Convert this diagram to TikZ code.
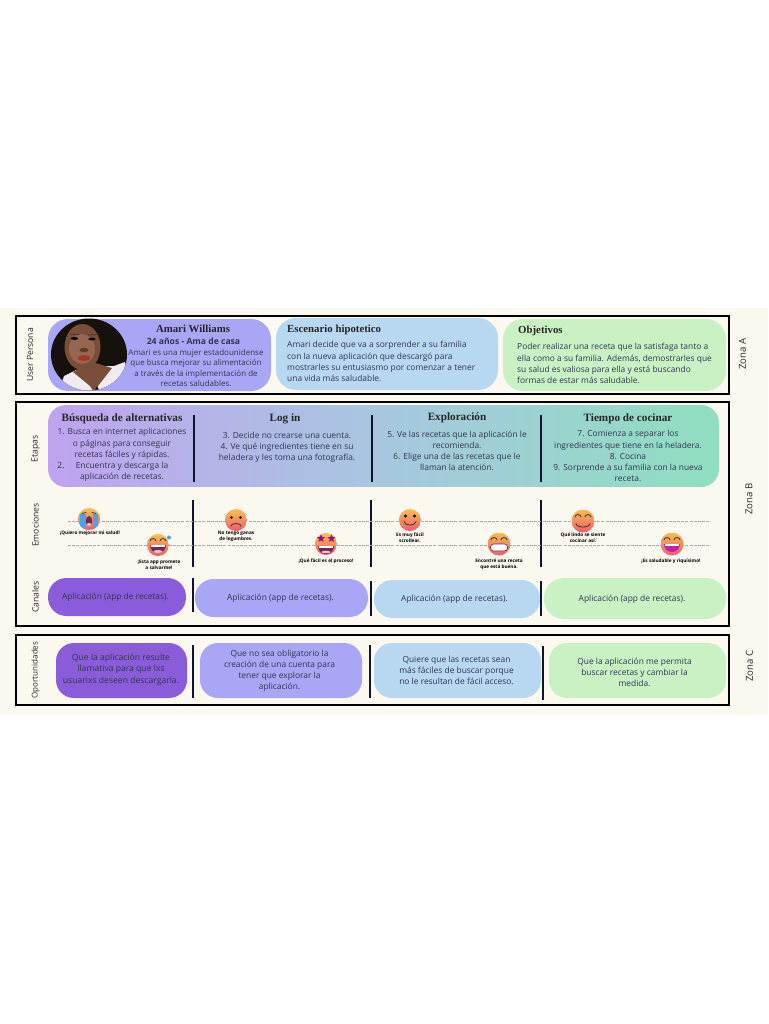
\documentclass[tikz,border=0pt]{standalone}
\usepackage{fontspec}
\setmainfont{Open Sans}
\newfontfamily\titlefont{Liberation Serif}
\usetikzlibrary{shapes.geometric}
\definecolor{cream}{HTML}{FBF8EF}
\definecolor{ink}{HTML}{2F3650}
\definecolor{pviolet}{HTML}{8A5CD9}
\definecolor{plav}{HTML}{AAA6F6}
\definecolor{pblue}{HTML}{B8D7F1}
\definecolor{pgreen}{HTML}{C9F1C4}
\definecolor{ebar}{HTML}{0E1330}
\definecolor{gradA}{HTML}{BFA3EF}
\definecolor{gradB}{HTML}{A8C6E0}
\definecolor{gradC}{HTML}{8EDFBF}
\definecolor{emotop}{HTML}{F8BE50}
\definecolor{emobot}{HTML}{F0606A}
\definecolor{mouthd}{HTML}{6A2A5A}
\definecolor{mouthp}{HTML}{C020B0}
\definecolor{tear}{HTML}{4FA0E8}
\definecolor{skin}{HTML}{7A4E38}
\definecolor{skinl}{HTML}{966650}
\definecolor{hair}{HTML}{17110E}
\definecolor{shirt}{HTML}{F0EBF0}
\tikzset{
  x=1pt,y=-1pt,
  zonebox/.style={draw=black,line width=1.8pt},
  sepline/.style={draw=ebar,line width=1.3pt},
  dashline/.style={draw=gray!65,line width=.7pt,dash pattern=on 3pt off 1.2pt},
  bodytxt/.style={text=ink,align=center,font=\fontsize{8.4}{11.1}\selectfont,inner sep=0pt},
  lefttxt/.style={text=ink,align=left,font=\fontsize{8.4}{11.4}\selectfont,inner sep=0pt,anchor=north west},
  headtxt/.style={text=black!85,font=\titlefont\bfseries\fontsize{10.8}{12}\selectfont,inner sep=0pt},
  bandhead/.style={headtxt,font=\titlefont\bfseries\fontsize{11.2}{12}\selectfont},
  ziptxt/.style={text=black,align=center,font=\fontsize{4.7}{5.8}\selectfont\bfseries,inner sep=0pt},
  sidetxt/.style={text=black!85,rotate=90,font=\fontsize{8.6}{10}\selectfont,inner sep=0pt},
  zonetxt/.style={sidetxt,font=\fontsize{9.6}{11}\selectfont},
  facestroke/.style={draw=black!80,line width=.8pt,line cap=round},
}
\newcommand{\emo}[3]{%
  \begin{scope}
  \clip (#1,#2) circle[radius=#3];
  \foreach \i in {0,...,11}{%
    \pgfmathsetmacro\p{100-\i*100/11}
    \fill[emotop!\p!emobot] (#1-#3,#2-#3+\i*#3/6) rectangle (#1+#3,#2-#3+\i*#3/6+#3/6+0.4);
  }
  \end{scope}}
\newcommand{\happyeyes}[3]{%
  \draw[facestroke] (#1-#3-3,#2) arc[start angle=180,end angle=360,x radius=3,y radius=2.5];
  \draw[facestroke] (#1+#3-3,#2) arc[start angle=180,end angle=360,x radius=3,y radius=2.5];}
\newcommand{\openmouth}[4]{%
  \fill[#4] (#1-#3,#2) arc[start angle=180,end angle=0,radius=#3] -- cycle;
  \fill[white] (#1-#3+.8,#2) rectangle (#1+#3-.8,#2+1.8);}
\begin{document}
\begin{tikzpicture}
\useasboundingbox (0,0) rectangle (768,1024);
\fill[white] (0,0) rectangle (768,1024);
\fill[cream] (0,308) rectangle (768,715);

% zone boxes
\draw[zonebox] (16,316) rectangle (729,394);
\draw[zonebox] (16,402) rectangle (729,626);
\draw[zonebox] (16,635) rectangle (729,705);

% Zone A
\fill[plav,rounded corners=20pt] (48,319) rectangle (271,391);
\fill[pblue,rounded corners=20pt] (276,318) rectangle (498,390);
\fill[pgreen,rounded corners=20pt] (503,319) rectangle (726,391);

% portrait
\begin{scope}
\clip (89,354.5) ellipse [x radius=38,y radius=36];
\fill[hair] (48,315) rectangle (130,395);
\fill[shirt] (58,395) -- (64,376) -- (76,370) -- (100,366) -- (114,366) -- (125,362) -- (130,395) -- cycle;
\fill[skin] (73,372) -- (92,362) -- (112,368) -- (98,386) -- (94,392) -- (90,386) -- cycle;
\fill[hair] (94,392) -- (97,386) -- (100,392) -- cycle;
\fill[skin] (82.5,347) ellipse [x radius=18,y radius=23];
\fill[skinl] (82,349) ellipse [x radius=13,y radius=15];
\fill[black] (74.5,338.5) ellipse [x radius=3.6,y radius=1.5];
\fill[black] (92,339) ellipse [x radius=3.6,y radius=1.5];
\draw[black!80,line width=.6pt] (70,334) -- (79,334.5);
\draw[black!80,line width=.6pt] (88,335) -- (97,334.5);
\fill[skin!75!black] (84,350) ellipse [x radius=4.5,y radius=2.2];
\fill[red!30!skin] (84,358) ellipse [x radius=6.5,y radius=2.8];
\end{scope}

\node[headtxt] (pname) at (193,329) {Amari Williams};
\node[text=ink,font=\fontsize{8.6}{11}\selectfont\bfseries,inner sep=0pt] (page) at (193.5,341) {24 años - Ama de casa};
\node[bodytxt,font=\fontsize{8}{10.2}\selectfont] (pdesc) at (196,368) {Amari es una mujer estadounidense\\que busca mejorar su alimentación\\a través de la implementación de\\recetas saludables.};

\node[headtxt,anchor=west] (sname) at (287,330) {Escenario hipotetico};
\node[lefttxt] (sdesc) at (287,341) {Amari decide que va a sorprender a su familia\\con la nueva aplicación que descargó para\\mostrarles su entusiasmo por comenzar a tener\\una vida más saludable.};

\node[headtxt,anchor=west] (oname) at (518,331) {Objetivos};
\node[lefttxt] (odesc) at (517,343) {Poder realizar una receta que la satisfaga tanto a\\ella como a su familia. Además, demostrarles que\\su salud es valiosa para ella y está buscando\\formas de estar más saludable.};

% Etapas gradient band
\begin{scope}
\clip[rounded corners=18pt] (300,405) -- (719,405) -- (719,487) -- (48,487) -- (48,405) -- cycle;
\foreach \i in {0,...,80}{%
  \pgfmathsetmacro\p{100-\i*100/80}
  \fill[gradA!\p!gradB] (48+\i*4,405) rectangle (48+\i*4+5,487);
}
\foreach \i in {0,...,88}{%
  \pgfmathsetmacro\p{100-\i*100/88}
  \fill[gradB!\p!gradC] (368+\i*4,405) rectangle (368+\i*4+5,487);
}
\end{scope}
\node[bandhead] (e1h) at (122,418.5) {Búsqueda de alternativas};
\node[bandhead] (e2h) at (285,418.5) {Log in};
\node[bandhead] (e3h) at (457,418) {Exploración};
\node[bandhead] (e4h) at (628,418.5) {Tiempo de cocinar};
\node[bodytxt] (e1) at (122,455) {1. Busca en internet aplicaciones\\o páginas para conseguir\\recetas fáciles y rápidas.\\Encuentra y descarga la\\aplicación de recetas.};
\node[text=ink,font=\fontsize{8.4}{10}\selectfont,inner sep=0pt] (e1n) at (61,465.5) {2.};
\node[bodytxt] (e2) at (287,447) {3. Decide no crearse una cuenta.\\4. Ve qué ingredientes tiene en su\\heladera y les toma una fotografía.};
\node[bodytxt] (e3) at (457,451) {5. Ve las recetas que la aplicación le\\recomienda.\\6. Elige una de las recetas que le\\llaman la atención.};
\node[bodytxt] (e4) at (628,456) {7. Comienza a separar los\\ingredientes que tiene en la heladera.\\8. Cocina\\9. Sorprende a su familia con la nueva\\receta.};

% separators
\draw[sepline] (194,415) -- (194,482);
\draw[sepline] (372,415) -- (372,482);
\draw[sepline] (541,415) -- (541,482);
\draw[sepline] (193,500) -- (193,567);
\draw[sepline] (371,500) -- (371,567);
\draw[sepline] (541,500) -- (541,567);
\draw[sepline] (193,578) -- (193,612);
\draw[sepline] (371,581) -- (371,616);
\draw[sepline] (541,581) -- (541,616);
\draw[sepline] (193,645) -- (193,698);
\draw[sepline] (370,645) -- (370,698);
\draw[sepline] (543,646) -- (543,700);

% dashed levels
\draw[dashline] (68,521) -- (710,521);
\draw[dashline] (68,545) -- (710,545);

% 1 crying
\emo{89}{519}{11}
\begin{scope}
\clip (89,519) circle[radius=11];
\fill[tear] (80,514) rectangle (85.5,531);
\fill[tear] (92.5,514) rectangle (98,531);
\end{scope}
\fill[mouthd] (89,521) ellipse [x radius=3.2,y radius=5];
\fill[pink] (89,524.5) ellipse [x radius=2.2,y radius=1.5];
\draw[facestroke] (82,513.5) -- (86,512.5);
\draw[facestroke] (96,513.5) -- (92,512.5);
% 2 sweat laugh
\emo{158}{545}{11}
\openmouth{158}{545}{8}{mouthd}
\fill[pink] (158,551.5) ellipse [x radius=4.5,y radius=1.5];
\happyeyes{158}{541}{5}
\fill[tear] (169,537.5) circle[radius=2];
% 3 frown
\emo{236}{520}{11}
\fill[black] (231.5,517.5) circle[radius=1.4];
\fill[black] (240.5,517.5) circle[radius=1.4];
\draw[facestroke] (231,526) arc[start angle=180,end angle=360,x radius=5,y radius=2.5];
% 4 stars
\emo{326}{544}{11}
\node[star,star points=5,star point ratio=2.2,fill=mouthp!75!black,inner sep=0pt,minimum size=8.5pt] (st1) at (321,538.5) {};
\node[star,star points=5,star point ratio=2.2,fill=mouthp!75!black,inner sep=0pt,minimum size=8.5pt] (st2) at (331.5,538.5) {};
\openmouth{326}{546}{8}{mouthd}
\fill[pink] (326,552) ellipse [x radius=4.5,y radius=1.3];
% 5 smile
\emo{410}{520}{11}
\fill[black] (405.5,516) circle[radius=1.6];
\fill[black] (414.5,516) circle[radius=1.6];
\draw[facestroke] (404,521.5) arc[start angle=180,end angle=0,x radius=6,y radius=3.5];
% 6 grin
\emo{499}{544}{11.5}
\fill[white,draw=mouthd,line width=.6pt,rounded corners=3pt] (490.5,544) rectangle (507.5,551);
\happyeyes{499}{540}{5}
% 7 closed smile
\emo{583}{521}{11.5}
\happyeyes{583}{517}{5}
\draw[facestroke] (576,523.5) arc[start angle=180,end angle=0,x radius=7,y radius=3.5];
% 8 big laugh
\emo{672}{544}{11.5}
\openmouth{672}{544}{8}{mouthp}
\happyeyes{672}{540}{5}

% emoji labels
\node[ziptxt] (z1) at (90,533) {¡Quiero mejorar mi salud!};
\node[ziptxt] (z2) at (159,564.5) {¡Esta app promete\\a salvarme!};
\node[ziptxt] (z3) at (236,536) {No tengo ganas\\de legumbres.};
\node[ziptxt] (z4) at (326,561) {¡Qué fácil es el proceso!};
\node[ziptxt] (z5) at (410,537.5) {Es muy fácil\\scrollear.};
\node[ziptxt] (z6) at (499,564.5) {Encontré una receta\\que está buena.};
\node[ziptxt] (z7) at (583,538) {Qué lindo se siente\\cocinar así.};
\node[ziptxt] (z8) at (671,561) {¡Es saludable y riquísimo!};

% Canales
\fill[pviolet,rounded corners=18.5pt] (48,578) rectangle (186,616);
\fill[plav,rounded corners=18.5pt] (195,579) rectangle (368,617);
\fill[pblue,rounded corners=18.5pt] (374,580) rectangle (540,618);
\fill[pgreen,rounded corners=20pt] (544,578) rectangle (726,619);
\node[bodytxt] (c1) at (115.5,597) {Aplicación (app de recetas).};
\node[bodytxt] (c2) at (280.5,598) {Aplicación (app de recetas).};
\node[bodytxt] (c3) at (454.5,599) {Aplicación (app de recetas).};
\node[bodytxt] (c4) at (632,599) {Aplicación (app de recetas).};

% Oportunidades
\fill[pviolet,rounded corners=18pt] (56,643) rectangle (187,698);
\fill[plav,rounded corners=18pt] (200,643) rectangle (362,698);
\fill[pblue,rounded corners=18pt] (374,643) rectangle (541,698);
\fill[pgreen,rounded corners=18pt] (549,643) rectangle (726,698);
\node[bodytxt,font=\fontsize{8.6}{11.4}\selectfont] (o1) at (121,669.5) {Que la aplicación resulte\\llamativa para que lxs\\usuarixs deseen descargarla.};
\node[bodytxt] (o2) at (279.5,670.5) {Que no sea obligatorio la\\creación de una cuenta para\\tener que explorar la\\aplicación.};
\node[bodytxt] (o3) at (456.5,670) {Quiere que las recetas sean\\más fáciles de buscar porque\\no le resultan de fácil acceso.};
\node[bodytxt] (o4) at (634.5,672) {Que la aplicación me permita\\buscar recetas y cambiar la\\medida.};

% side labels
\node[sidetxt] (s1) at (30,355) {User Persona};
\node[sidetxt] (s2) at (35.5,449) {Etapas};
\node[sidetxt] (s3) at (35.5,525) {Emociones};
\node[sidetxt] (s4) at (35.5,597) {Canales};
\node[sidetxt,font=\fontsize{8}{10}\selectfont] (s5) at (35.5,670) {Oportunidades};
\node[zonetxt] (s6) at (742.5,354) {Zona A};
\node[zonetxt] (s7) at (749,499) {Zona B};
\node[zonetxt] (s8) at (749.5,666) {Zona C};
\end{tikzpicture}
\end{document}
